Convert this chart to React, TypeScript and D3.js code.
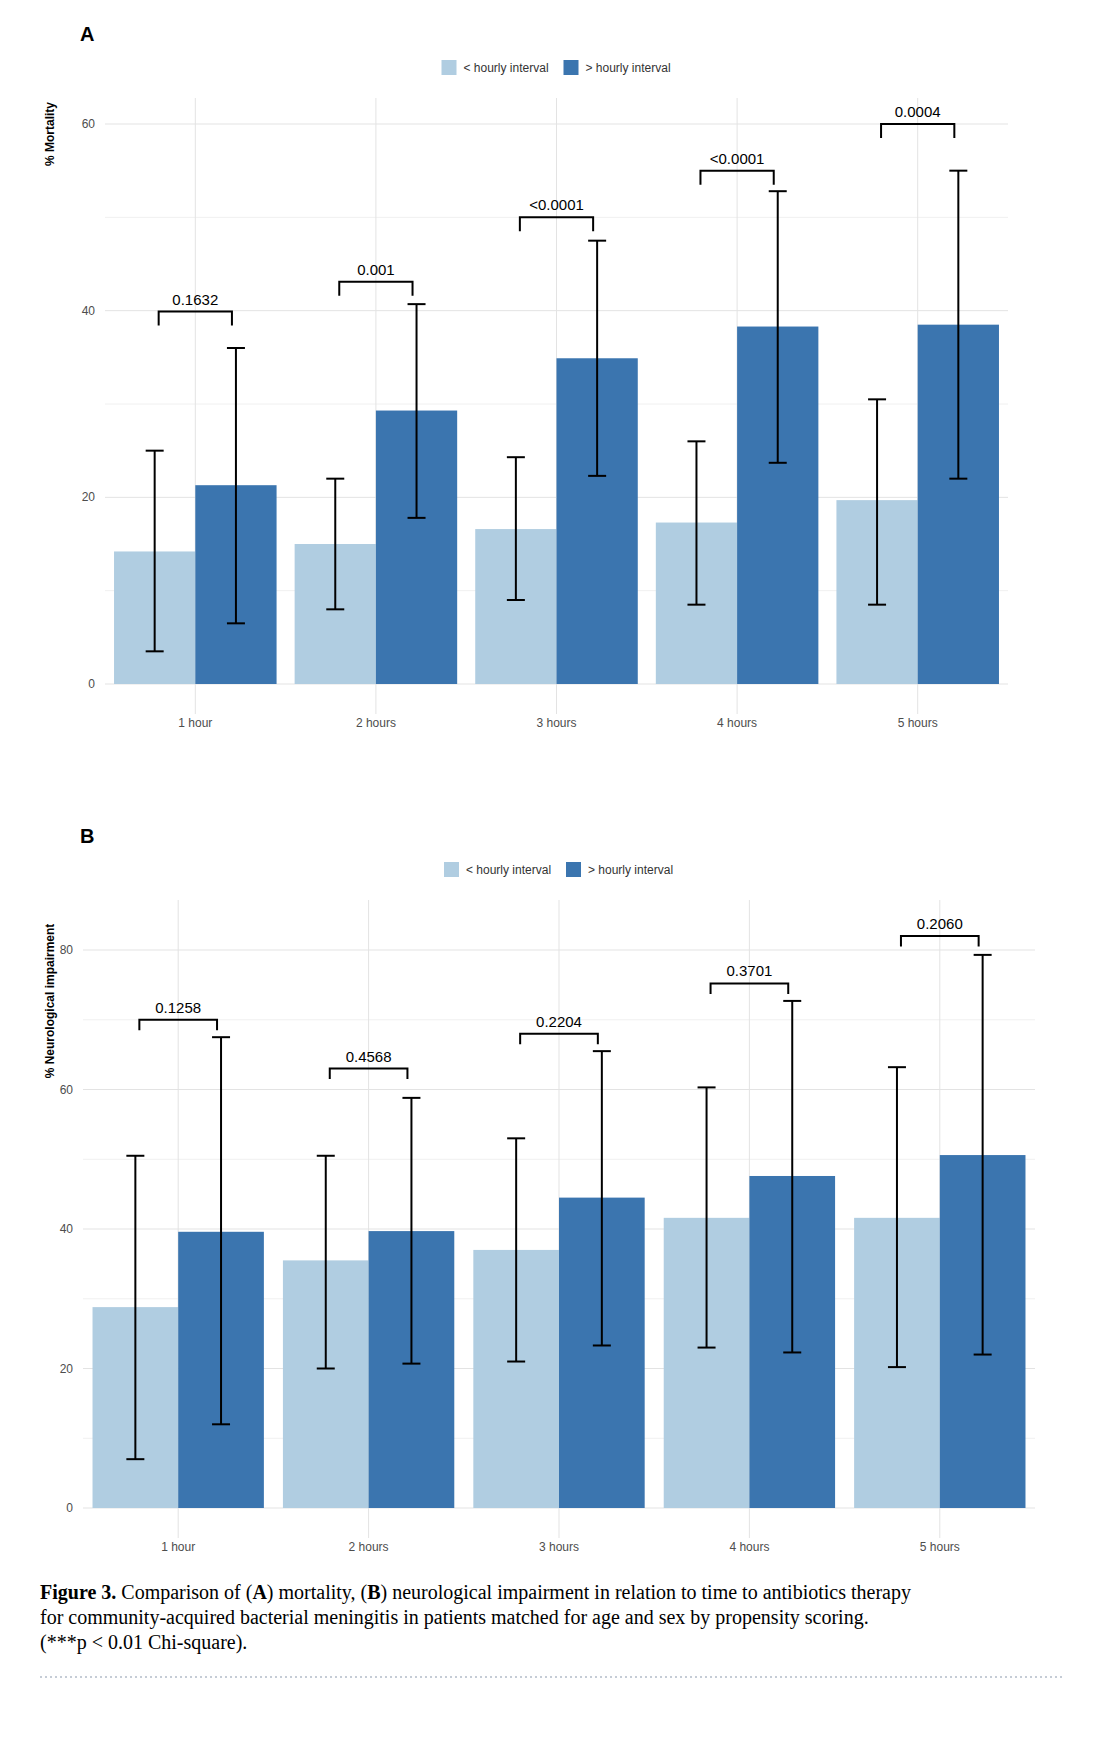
import React from "react"
import * as d3 from "d3"

const categories = ["1 hour", "2 hours", "3 hours", "4 hours", "5 hours"]
const seriesNames = ["< hourly interval", "> hourly interval"]
const colors = ["#b0cde1", "#3b75af"]

// panel A: mortality
const mortLow = [14.2, 15.0, 16.6, 17.3, 19.7]
const mortHigh = [21.3, 29.3, 34.9, 38.3, 38.5]
const mortLowErr = [[3.5, 25], [8, 22], [9, 24.3], [8.5, 26], [8.5, 30.5]]
const mortHighErr = [[6.5, 36], [17.8, 40.7], [22.3, 47.5], [23.7, 52.8], [22, 55]]
const mortP = ["0.1632", "0.001", "<0.0001", "<0.0001", "0.0004"]
const mortBracket = [39.9, 43.1, 50, 55, 60]
const mortTicks = [0, 20, 40, 60]

// panel B: neurological impairment
const neuroLow = [28.8, 35.5, 37.0, 41.6, 41.6]
const neuroHigh = [39.6, 39.7, 44.5, 47.6, 50.6]
const neuroLowErr = [[7, 50.5], [20, 50.5], [21, 53], [23, 60.3], [20.2, 63.2]]
const neuroHighErr = [[12, 67.5], [20.7, 58.8], [23.3, 65.5], [22.3, 72.7], [22, 79.3]]
const neuroP = ["0.1258", "0.4568", "0.2204", "0.3701", "0.2060"]
const neuroBracket = [70, 63, 68, 75.2, 82]
const neuroTicks = [0, 20, 40, 60, 80]

function Panel(props) {
  const { letter, top, x0, x1, y0, yTop, yMax, low, high, lowErr, highErr, pvals, brackets, ticks, yTitle, titleY } = props
  const x = d3.scaleBand().domain(categories).range([x0, x1]).paddingInner(0.1).paddingOuter(0.05)
  const y = d3.scaleLinear().domain([0, yMax]).range([y0, yTop])
  const bw = x.bandwidth() / 2
  const minor = d3.range(10, yMax + 5, 20).filter(v => y(v) > top + 70)
  const gridTop = top + 72
  const legX = (x0 + x1) / 2 - 115
  const font = "Liberation Sans, Arial, sans-serif"
  const errBar = (cx, e, k) => (
    <g key={k} stroke="#000" strokeWidth={2}>
      <line x1={cx} x2={cx} y1={y(e[0])} y2={y(e[1])} />
      <line x1={cx - 9} x2={cx + 9} y1={y(e[0])} y2={y(e[0])} />
      <line x1={cx - 9} x2={cx + 9} y1={y(e[1])} y2={y(e[1])} />
    </g>
  )
  return (
    <g fontFamily={font}>
      <text x={80} y={top + 15} fontSize={20} fontWeight="bold">{letter}</text>
      {seriesNames.map((s, i) => (
        <g key={s} transform={`translate(${legX + i * 122},${top + 34})`}>
          <rect width={15} height={15} fill={colors[i]} />
          <text x={22} y={12} fontSize={12} fill="#333">{s}</text>
        </g>
      ))}
      {minor.map(v => <line key={"m" + v} x1={x0} x2={x1} y1={y(v)} y2={y(v)} stroke="#f0f0f0" />)}
      {ticks.map(v => <line key={"t" + v} x1={x0} x2={x1} y1={y(v)} y2={y(v)} stroke="#e3e3e3" />)}
      {categories.map(c => {
        const cx = x(c) + bw
        return <line key={c} x1={cx} x2={cx} y1={gridTop} y2={y0 + 30} stroke="#e3e3e3" />
      })}
      {ticks.map(v => (
        <text key={"l" + v} x={x0 - 10} y={y(v) + 4} fontSize={12} fill="#4d4d4d" textAnchor="end">{v}</text>
      ))}
      <text transform={`translate(54,${titleY}) rotate(-90)`} fontSize={12} fontWeight="bold" textAnchor="middle">{yTitle}</text>
      {categories.map((c, i) => (
        <g key={"b" + c}>
          <rect x={x(c)} y={y(low[i])} width={bw} height={y0 - y(low[i])} fill={colors[0]} />
          <rect x={x(c) + bw} y={y(high[i])} width={bw} height={y0 - y(high[i])} fill={colors[1]} />
          {errBar(x(c) + bw / 2, lowErr[i], "le")}
          {errBar(x(c) + bw * 1.5, highErr[i], "he")}
          <g stroke="#000" strokeWidth={2} fill="none">
            <path d={`M${x(c) + bw / 2 + 4},${y(brackets[i] - 1.5)}V${y(brackets[i])}H${x(c) + bw * 1.5 - 4}V${y(brackets[i] - 1.5)}`} />
          </g>
          <text x={x(c) + bw} y={y(brackets[i]) - 7} fontSize={15} textAnchor="middle">{pvals[i]}</text>
          <text x={x(c) + bw} y={y0 + 43} fontSize={12} fill="#4d4d4d" textAnchor="middle">{c}</text>
        </g>
      ))}
    </g>
  )
}

export default function App() {
  return (
    <svg width={1110} height={1740} style={{ position: "absolute", left: 0, top: 0, background: "#fff" }}>
      <Panel letter="A" top={26} x0={105} x1={1008} y0={684} yTop={124} yMax={60}
        low={mortLow} high={mortHigh} lowErr={mortLowErr} highErr={mortHighErr}
        pvals={mortP} brackets={mortBracket} ticks={mortTicks} yTitle="% Mortality" titleY={134} />
      <Panel letter="B" top={828} x0={83} x1={1035} y0={1508} yTop={950} yMax={80}
        low={neuroLow} high={neuroHigh} lowErr={neuroLowErr} highErr={neuroHighErr}
        pvals={neuroP} brackets={neuroBracket} ticks={neuroTicks} yTitle="% Neurological impairment" titleY={1001} />
      <g fontFamily="Liberation Serif, Times New Roman, serif" fontSize={20}>
        <text x={40} y={1599}><tspan fontWeight="bold">Figure 3.</tspan>{"   Comparison of ("}<tspan fontWeight="bold">A</tspan>{") mortality, ("}<tspan fontWeight="bold">B</tspan>{") neurological impairment in relation to time to antibiotics therapy"}</text>
        <text x={40} y={1624}>for community-acquired bacterial meningitis in patients matched for age and sex by propensity scoring.</text>
        <text x={40} y={1649}>(***p &lt; 0.01 Chi-square).</text>
      </g>
      <line x1={40} x2={1062} y1={1677} y2={1677} stroke="#c5ccd6" strokeWidth={2} strokeDasharray="2,3" />
    </svg>
  )
}
